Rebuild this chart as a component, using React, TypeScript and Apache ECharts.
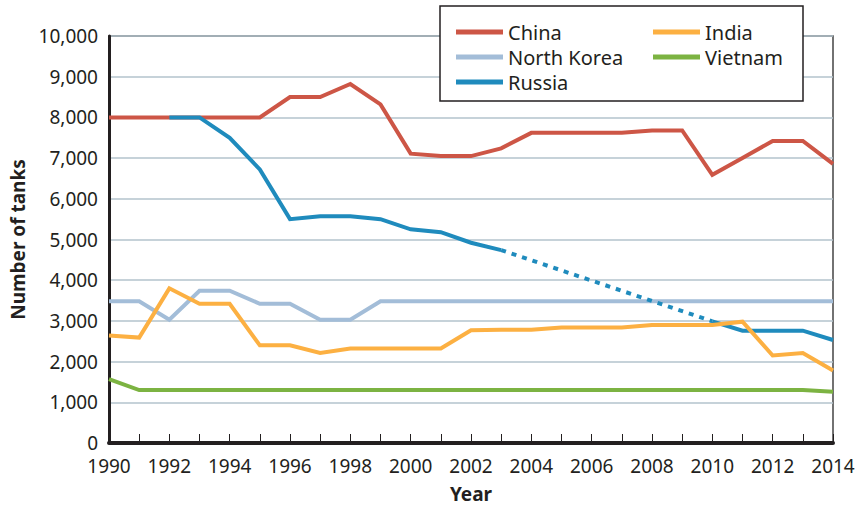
import React, { useEffect, useRef } from "react";
import * as echarts from "echarts";

const years = [1990, 1991, 1992, 1993, 1994, 1995, 1996, 1997, 1998, 1999, 2000, 2001, 2002, 2003, 2004, 2005, 2006, 2007, 2008, 2009, 2010, 2011, 2012, 2013, 2014];
const china = [8000, 8000, 8000, 8000, 8000, 8000, 8500, 8500, 8820, 8320, 7110, 7050, 7050, 7240, 7620, 7620, 7620, 7620, 7680, 7680, 6590, 7000, 7420, 7420, 6860];
const northKorea = [3480, 3480, 3030, 3740, 3740, 3420, 3420, 3030, 3030, 3480, 3480, 3480, 3480, 3480, 3480, 3480, 3480, 3480, 3480, 3480, 3480, 3480, 3480, 3480, 3480];
const russiaReported = [null, null, 8000, 8000, 7500, 6720, 5500, 5570, 5570, 5500, 5250, 5180, 4920, 4740, null, null, null, null, null, null, 2990, 2760, 2760, 2760, 2530];
const russiaEstimated = [null, null, null, null, null, null, null, null, null, null, null, null, null, 4740, null, null, null, null, null, null, 2990, null, null, null, null];
const india = [2640, 2590, 3800, 3420, 3420, 2400, 2400, 2210, 2320, 2320, 2320, 2320, 2770, 2780, 2780, 2840, 2840, 2840, 2900, 2900, 2900, 2980, 2150, 2210, 1780];
const vietnam = [1570, 1300, 1300, 1300, 1300, 1300, 1300, 1300, 1300, 1300, 1300, 1300, 1300, 1300, 1300, 1300, 1300, 1300, 1300, 1300, 1300, 1300, 1300, 1300, 1260];
const yTicks = [0, 1000, 2000, 3000, 4000, 5000, 6000, 7000, 8000, 9000, 10000];

const FONT = "Noto Sans";

function pairs(vals: (number | null)[]) {
  return years.map((y, i) => [y, vals[i]]);
}

export default function App() {
  const ref = useRef<HTMLDivElement>(null);
  useEffect(() => {
    if (!ref.current) return;
    const chart = echarts.init(ref.current, undefined, { renderer: "svg" });
    const colors = {
      China: "#cd5646",
      "North Korea": "#a3bdd8",
      Russia: "#1f8bbd",
      India: "#fcb042",
      Vietnam: "#7cb342",
    };
    const line = (name: string, data: any[], color: string, z: number, extra: any = {}) => ({
      name,
      type: "line",
      data,
      showSymbol: false,
      symbol: "none",
      connectNulls: false,
      z,
      lineStyle: { color, width: 4, cap: "butt", join: "miter", ...extra },
      itemStyle: { color },
    });
    const legendText = { fontFamily: FONT, fontSize: 20, color: "#231f20", lineHeight: 20 };
    chart.setOption({
      animation: false,
      backgroundColor: "#ffffff",
      grid: {
        left: 109,
        right: 24,
        top: 36,
        bottom: 62,
        containLabel: false,
        outerBoundsMode: "none",
        show: true,
        borderColor: "#444",
        borderWidth: 1.5,
        backgroundColor: "transparent",
      },
      xAxis: {
        type: "value",
        min: 1990,
        max: 2014,
        interval: 1,
        name: "Year",
        nameLocation: "middle",
        nameGap: 41,
        nameTextStyle: { fontFamily: FONT, fontSize: 19, fontWeight: "bold", color: "#231f20", lineHeight: 19 },
        axisLine: { show: true, onZero: false, lineStyle: { color: "#231f20", width: 4 } },
        axisTick: { show: true, inside: true, length: 9, lineStyle: { color: "#231f20", width: 1 } },
        axisLabel: {
          fontFamily: FONT,
          fontSize: 19,
          lineHeight: 18,
          color: "#231f20",
          margin: 14,
          formatter: (v: number) => (v % 2 === 0 ? String(v) : ""),
        },
        splitLine: { show: false },
      },
      yAxis: {
        type: "value",
        min: yTicks[0],
        max: yTicks[yTicks.length - 1],
        interval: 1000,
        name: "Number of tanks",
        nameLocation: "middle",
        nameGap: 78,
        nameRotate: 90,
        nameTextStyle: { fontFamily: FONT, fontSize: 19, fontWeight: "bold", color: "#231f20" },
        axisLine: { show: true, lineStyle: { color: "#231f20", width: 3 } },
        axisTick: { show: false },
        axisLabel: {
          fontFamily: FONT,
          fontSize: 19,
          lineHeight: 16,
          padding: [0, 0, 4, 0],
          color: "#231f20",
          margin: 11,
          formatter: (v: number) => v.toLocaleString("en-US"),
        },
        splitLine: { show: true, lineStyle: { color: "#b3c3cc", width: 1.5 } },
      },
      graphic: [
        {
          type: "rect",
          shape: { x: 440, y: 6, width: 363, height: 95 },
          style: { fill: "#ffffff", stroke: "#231f20", lineWidth: 1.5 },
          z: 100,
        },
      ],
      legend: [
        {
          orient: "vertical",
          left: 451,
          top: 17,
          itemWidth: 47,
          itemHeight: 5,
          itemGap: 5,
          icon: "rect",
          textStyle: legendText,
          data: ["China", "North Korea", "Russia"],
          z: 110,
        },
        {
          orient: "vertical",
          left: 648,
          top: 17,
          itemWidth: 47,
          itemHeight: 5,
          itemGap: 5,
          icon: "rect",
          textStyle: legendText,
          data: ["India", "Vietnam"],
          z: 110,
        },
      ],
      series: [
        line("China", pairs(china), colors.China, 3),
        line("North Korea", pairs(northKorea), colors["North Korea"], 2),
        line("Vietnam", pairs(vietnam), colors.Vietnam, 2),
        line("Russia", pairs(russiaReported), colors.Russia, 4),
        { ...line("Russia estimate", pairs(russiaEstimated).filter((p) => p[1] !== null), colors.Russia, 4, { type: [5, 6] }), connectNulls: true },
        line("India", pairs(india), colors.India, 5),
      ],
    });
    return () => chart.dispose();
  }, []);
  return <div ref={ref} style={{ width: 857, height: 505, position: "absolute", left: 0, top: 0 }} />;
}
